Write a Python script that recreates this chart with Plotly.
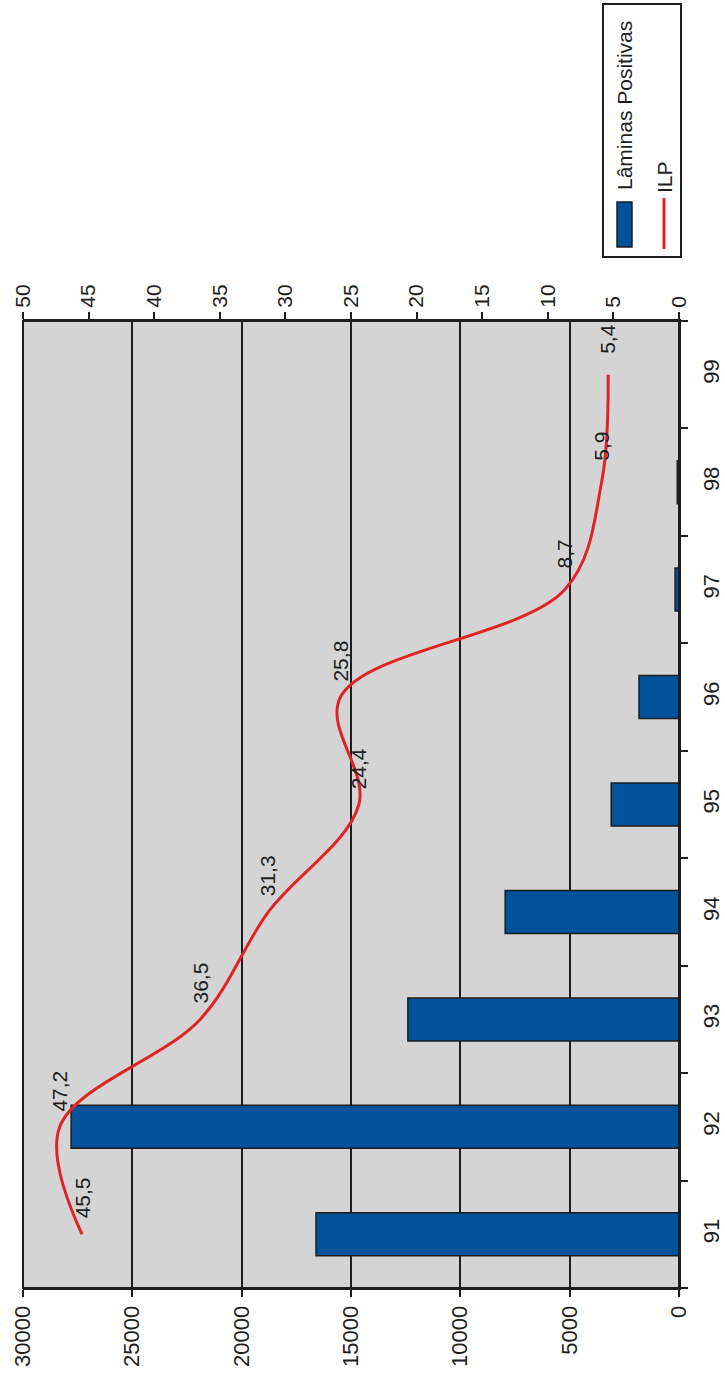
import plotly.graph_objects as go

# ---- data ----
years = ["91", "92", "93", "94", "95", "96", "97", "98", "99"]
laminas_positivas = [16600, 27800, 12400, 7950, 3100, 1830, 180, 80, 0]
ilp = [45.5, 47.2, 36.5, 31.3, 24.4, 25.8, 8.7, 5.9, 5.4]
ilp_labels = ["45,5", "47,2", "36,5", "31,3", "24,4", "25,8", "8,7", "5,9", "5,4"]
bar_ticks = [0, 5000, 10000, 15000, 20000, 25000, 30000]
ilp_ticks = [0, 5, 10, 15, 20, 25, 30, 35, 40, 45, 50]

# ---- geometry (pixels) ----
W, H = 725, 1373
L, R, T, B = 23, 679, 321, 1288
PW, PH = R - L, B - T


def px(x):
    return (x - L) / PW


def py(y):
    return (B - y) / PH


FONT = "Liberation Sans, Arial, sans-serif"
INK = "#1e1e1e"
BLUE = "#00529b"
RED = "#e02424"

fig = go.Figure()

fig.add_trace(go.Bar(
    x=laminas_positivas, y=years, orientation="h",
    name="Lâminas Positivas",
    marker=dict(color=BLUE, line=dict(color=INK, width=1.5)),
    xaxis="x", yaxis="y",
))

fig.add_trace(go.Scatter(
    x=ilp, y=years, mode="lines", name="ILP",
    line=dict(color=RED, width=3, shape="spline", smoothing=1.0),
    xaxis="x2", yaxis="y",
))

annotations = []
for i, (v, t) in enumerate(zip(ilp, ilp_labels)):
    annotations.append(dict(
        x=v, y=i, xref="x2", yref="y", text=t, showarrow=False,
        textangle=-90, xanchor="center", yanchor="middle", yshift=36,
        font=dict(family=FONT, size=21, color=INK),
    ))

# manual legend (rotated)
annotations.append(dict(
    x=px(625), y=py(106), xref="paper", yref="paper", text="Lâminas Positivas",
    showarrow=False, textangle=-90, xanchor="center", yanchor="middle",
    font=dict(family=FONT, size=21, color=INK),
))
annotations.append(dict(
    x=px(664), y=py(177), xref="paper", yref="paper", text="ILP",
    showarrow=False, textangle=-90, xanchor="center", yanchor="middle",
    font=dict(family=FONT, size=21, color=INK),
))

shapes = [
    dict(type="rect", xref="paper", yref="paper", x0=0, x1=1, y0=0, y1=1,
         line=dict(color=INK, width=2), layer="above"),
    dict(type="rect", xref="paper", yref="paper", x0=px(603), x1=px(681),
         y0=py(257), y1=py(4), line=dict(color=INK, width=2), fillcolor="white"),
    dict(type="rect", xref="paper", yref="paper", x0=px(617), x1=px(632),
         y0=py(247), y1=py(202), line=dict(color=INK, width=1.5), fillcolor=BLUE),
    dict(type="line", xref="paper", yref="paper", x0=px(664), x1=px(664),
         y0=py(249), y1=py(198), line=dict(color=RED, width=3)),
]

n = len(years)
fig.update_layout(
    width=W, height=H,
    margin=dict(l=L, r=W - R, t=T, b=H - B, autoexpand=False),
    paper_bgcolor="white", plot_bgcolor="#d4d4d4",
    showlegend=False, bargap=0.6,
    font=dict(family=FONT, size=21, color=INK),
    xaxis=dict(
        range=[30000, 0], tickvals=bar_ticks, ticktext=[str(t) for t in bar_ticks],
        tickangle=-90, ticks="outside", ticklen=7, tickcolor=INK, tickwidth=1.5,
        showgrid=True, gridcolor=INK, gridwidth=1.5, zeroline=False,
        showline=True, linecolor=INK, linewidth=2,
        tickfont=dict(family=FONT, size=22, color=INK),
    ),
    xaxis2=dict(
        range=[50, 0], tickvals=ilp_ticks, ticktext=[str(t) for t in ilp_ticks],
        overlaying="x", side="top", anchor="y",
        tickangle=-90, ticks="outside", ticklen=7, tickcolor=INK, tickwidth=1.5,
        showgrid=False, zeroline=False,
        showline=True, linecolor=INK, linewidth=2,
        tickfont=dict(family=FONT, size=21, color=INK),
    ),
    # inner half of the crossing ticks on the top axis
    xaxis3=dict(
        range=[50, 0], tickvals=ilp_ticks, overlaying="x", side="top", anchor="y",
        ticks="inside", ticklen=9, tickcolor=INK, tickwidth=1.5,
        showticklabels=False, showgrid=False, zeroline=False, showline=False,
    ),
    yaxis=dict(
        side="right", type="category", categoryorder="array", categoryarray=years,
        range=[-0.5, n - 0.5], autorange=False,
        tickangle=-90, ticks="outside", ticklen=7, tickcolor=INK, tickwidth=1.5,
        tickson="boundaries", showgrid=False, zeroline=False,
        showline=True, linecolor=INK, linewidth=2, ticklabelstandoff=12,
        tickfont=dict(family=FONT, size=22, color=INK),
    ),
    # inner half of the crossing ticks on the category axis
    yaxis2=dict(
        range=[-0.5, n - 0.5], overlaying="y", side="right", anchor="x",
        tickvals=[i + 0.5 for i in range(-1, n)],
        ticks="inside", ticklen=8, tickcolor=INK, tickwidth=1.5,
        showticklabels=False, showgrid=False, zeroline=False, showline=False,
    ),
    annotations=annotations,
    shapes=shapes,
)

fig.write_html(
    "out.html",
    config={"displayModeBar": False},
    post_script="document.body.style.margin='0';document.body.style.overflow='hidden';",
)
